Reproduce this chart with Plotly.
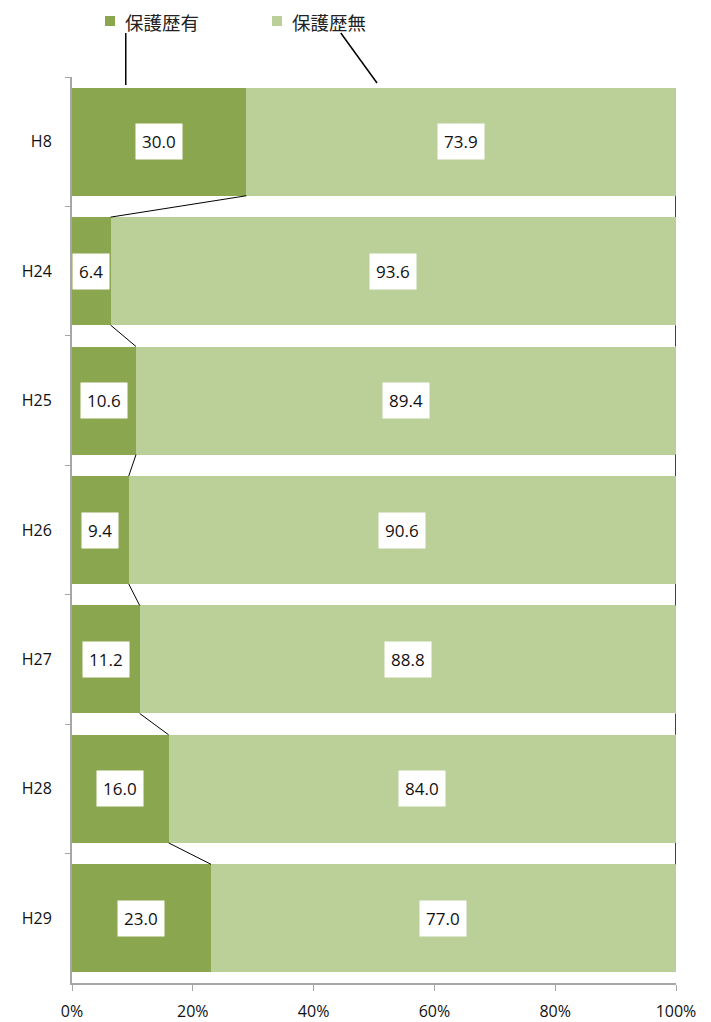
import plotly.graph_objects as go

categories = ["H8", "H24", "H25", "H26", "H27", "H28", "H29"]
with_history = [30.0, 6.4, 10.6, 9.4, 11.2, 16.0, 23.0]
without_history = [73.9, 93.6, 89.4, 90.6, 88.8, 84.0, 77.0]
series_names = ["保護歴有", "保護歴無"]
colors = ["#8AA64E", "#BBCF99"]
x_ticks = [0, 20, 40, 60, 80, 100]

FONT = "Open Sans, Noto Sans CJK JP, sans-serif"
BAR_W = 0.835

fig = go.Figure()
for name, vals, col in zip(series_names, [with_history, without_history], colors):
    fig.add_trace(go.Bar(
        y=categories, x=vals, name=name, orientation="h",
        marker=dict(color=col, line=dict(width=0)), width=BAR_W,
        hoverinfo="skip",
    ))

# normalized percentages (same as barnorm) for labels & series lines
totals = [a + b for a, b in zip(with_history, without_history)]
p1 = [a / t * 100 for a, t in zip(with_history, totals)]

annotations = []
for i, c in enumerate(categories):
    annotations.append(dict(x=p1[i] / 2, y=c, xref="x", yref="y", text=f"{with_history[i]:.1f}",
                            showarrow=False, bgcolor="white", borderpad=6,
                            font=dict(size=17, color="#111", family=FONT)))
    annotations.append(dict(x=p1[i] + (100 - p1[i]) / 2, y=c, xref="x", yref="y",
                            text=f"{without_history[i]:.1f}",
                            showarrow=False, bgcolor="white", borderpad=6,
                            font=dict(size=17, color="#111", family=FONT)))

shapes = []
h = BAR_W / 2
for i in range(len(categories) - 1):
    shapes.append(dict(type="line", xref="x", yref="y", x0=p1[i], y0=i + h, x1=p1[i + 1], y1=i + 1 - h,
                       line=dict(color="#000", width=1)))
    shapes.append(dict(type="line", xref="x", yref="y", x0=100, y0=i + h, x1=100, y1=i + 1 - h,
                       line=dict(color="#404040", width=2)))

# custom legend
leg_sq_x = [0.0546, 0.3311]
leg_tx_x = [0.0844, 0.3610]
for j, name in enumerate(series_names):
    shapes.append(dict(type="rect", xref="paper", yref="paper", x0=leg_sq_x[j], x1=leg_sq_x[j] + 0.0166,
                       y0=1.0563, y1=1.0673, fillcolor=colors[j], line=dict(width=0)))
    annotations.append(dict(x=leg_tx_x[j], y=1.0607, xref="paper", yref="paper", text=name,
                            showarrow=False, xanchor="left", yanchor="middle",
                            font=dict(size=18.5, color="#222", family="Noto Sans CJK JP")))
# legend leader lines
shapes.append(dict(type="line", xref="x", yref="paper", x0=8.9, x1=8.9, y0=1.0486, y1=0.9912,
                   line=dict(color="#000", width=1.5)))
shapes.append(dict(type="line", xref="x", yref="paper", x0=44.5, x1=50.5, y0=1.0486, y1=0.9934,
                   line=dict(color="#000", width=1.5)))

fig.update_layout(
    width=711, height=1022,
    margin=dict(l=64, r=43, t=69, b=47),
    barmode="stack", barnorm="percent",
    showlegend=False,
    plot_bgcolor="white", paper_bgcolor="white",
    font=dict(family=FONT, size=16, color="#111"),
    annotations=annotations, shapes=shapes,
    xaxis=dict(range=[0, 100], tickvals=x_ticks, ticktext=[f"{v}%" for v in x_ticks],
               showgrid=False, zeroline=False, showline=True, linecolor="#A6A6A6", linewidth=1.5,
               ticks="outside", ticklen=6, tickcolor="#A6A6A6", ticklabelstandoff=7,
               automargin=False,
               tickfont=dict(size=16, family=FONT, color="#111")),
    yaxis=dict(categoryorder="array", categoryarray=categories, autorange="reversed",
               showgrid=False, zeroline=False, showline=True, linecolor="#A6A6A6", linewidth=2,
               ticks="outside", ticklen=5, tickcolor="#A6A6A6", tickson="boundaries",
               ticklabelstandoff=15, automargin=False,
               tickfont=dict(size=16, family=FONT, color="#111")),
)

fig.write_html("out.html")
